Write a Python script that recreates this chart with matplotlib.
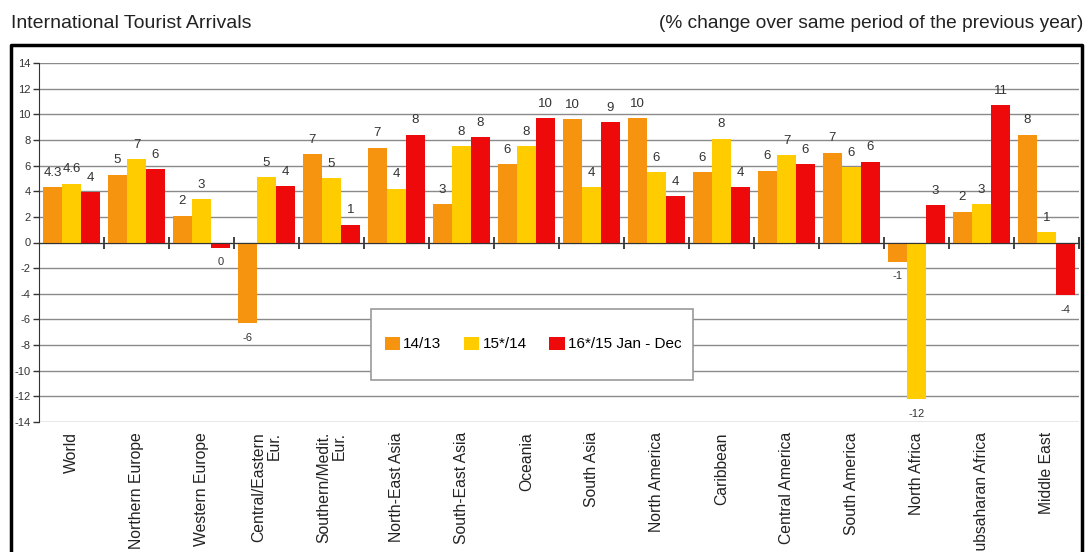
import matplotlib.pyplot as plt
import matplotlib.transforms as mtransforms
from matplotlib.lines import Line2D
from matplotlib.patches import Rectangle
import numpy as np

plt.rcParams['font.family'] = ['Liberation Sans', 'DejaVu Sans']
plt.rcParams['axes.unicode_minus'] = False

regions = ['World', 'Northern Europe', 'Western Europe', 'Central/Eastern\nEur.',
           'Southern/Medit.\nEur.', 'North-East Asia', 'South-East Asia', 'Oceania',
           'South Asia', 'North America', 'Caribbean', 'Central America',
           'South America', 'North Africa', 'Subsaharan Africa', 'Middle East']

# bar heights
v14 = [4.3, 5.3, 2.1, -6.3, 6.9, 7.4, 3.0, 6.1, 9.6, 9.7, 5.5, 5.6, 7.0, -1.5, 2.4, 8.4]
v15 = [4.6, 6.5, 3.4, 5.1, 5.0, 4.2, 7.5, 7.5, 4.3, 5.5, 8.1, 6.8, 5.9, -12.2, 3.0, 0.8]
v16 = [3.9, 5.7, -0.4, 4.4, 1.4, 8.4, 8.2, 9.7, 9.4, 3.6, 4.3, 6.1, 6.3, 2.9, 10.7, -4.1]

# value labels as printed on the chart
lab14 = ['4.3', '5', '2', '-6', '7', '7', '3', '6', '10', '10', '6', '6', '7', '-1', '2', '8']
lab15 = ['4.6', '7', '3', '5', '5', '4', '8', '8', '4', '6', '8', '7', '6', '-12', '3', '1']
lab16 = ['4', '6', '0', '4', '1', '8', '8', '10', '9', '4', '4', '6', '6', '3', '11', '-4']

series = ['14/13', '15*/14', '16*/15 Jan - Dec']
colors = ['#F7940F', '#FFCC00', '#EE0A0A']

fig = plt.figure(figsize=(10.87, 5.52), dpi=100)
ax = fig.add_axes([39 / 1087, 1 - 422 / 552, 1040 / 1087, 359 / 552])

x = np.arange(len(regions))
w = 0.293
for k, (vals, labs) in enumerate(zip([v14, v15, v16], [lab14, lab15, lab16])):
    pos = x + (k - 1) * w
    ax.bar(pos, vals, width=w, color=colors[k], label=series[k], zorder=3)
    for xi, v, t in zip(pos, vals, labs):
        if v >= 0:
            ax.annotate(t, (xi, v), xytext=(0, 6), textcoords='offset points',
                        ha='center', va='bottom', fontsize=9.5, color='#333333')
        else:
            ax.annotate(t, (xi, v), xytext=(0, -7), textcoords='offset points',
                        ha='center', va='top', fontsize=8, color='#333333')

ax.set_xlim(-0.5, len(regions) - 0.5)
ax.set_ylim(-14, 14)
ax.set_yticks(np.arange(-14, 15, 2))
ax.yaxis.grid(True, color='#8a8a8a', linewidth=1)
ax.set_axisbelow(True)
ax.tick_params(axis='y', labelsize=8, length=4, width=1, color='#333333', pad=2,
               labelcolor='#333333')

for s in ['top', 'right']:
    ax.spines[s].set_visible(False)
ax.spines['left'].set_color('#333333')
ax.spines['bottom'].set_position(('data', 0))
ax.spines['bottom'].set_color('#333333')
ax.spines['bottom'].set_zorder(4)
ax.set_xticks(np.arange(0.5, len(regions), 1.0))
ax.set_xticklabels([])
ax.tick_params(axis='x', direction='inout', length=8, width=1.3, color='#333333')

trans = mtransforms.blended_transform_factory(ax.transData, ax.transAxes)
for xi, name in zip(x, regions):
    ax.text(xi, -0.028, name, transform=trans, rotation=90, ha='center', va='top',
            fontsize=11.3, color='#222222', linespacing=1.0, multialignment='right')

# legend box: frame drawn separately (tall, tight at the sides)
frame = Rectangle((371 / 1087, 1 - 380 / 552), 322 / 1087, 71 / 552,
                  transform=fig.transFigure, facecolor='white',
                  edgecolor='#999999', linewidth=1.2, zorder=5, clip_on=False)
ax.add_patch(frame)
leg = ax.legend(ncol=3, loc='center', bbox_to_anchor=(533 / 1087, 1 - 344 / 552),
                bbox_transform=fig.transFigure, fontsize=11, frameon=False,
                handlelength=1.0, handleheight=0.95, handletextpad=0.2,
                columnspacing=1.5, borderpad=0.2)
leg.set_zorder(6)

fig.text(11 / 1087, 1 - 24 / 552, 'International Tourist Arrivals', ha='left', va='center',
         fontsize=14, color='#222222')
fig.text(1083 / 1087, 1 - 24 / 552, '(% change over same period of the previous year)',
         ha='right', va='center', fontsize=13.8, color='#222222')

# outer frame around the chart, open at the bottom
fx = [11 / 1087, 11 / 1087, 1082 / 1087, 1082 / 1087]
fy = [-0.05, 1 - 45 / 552, 1 - 45 / 552, -0.05]
fig.add_artist(Line2D(fx, fy, transform=fig.transFigure, color='black', linewidth=2.5))

fig.savefig('out.png', dpi=100)
